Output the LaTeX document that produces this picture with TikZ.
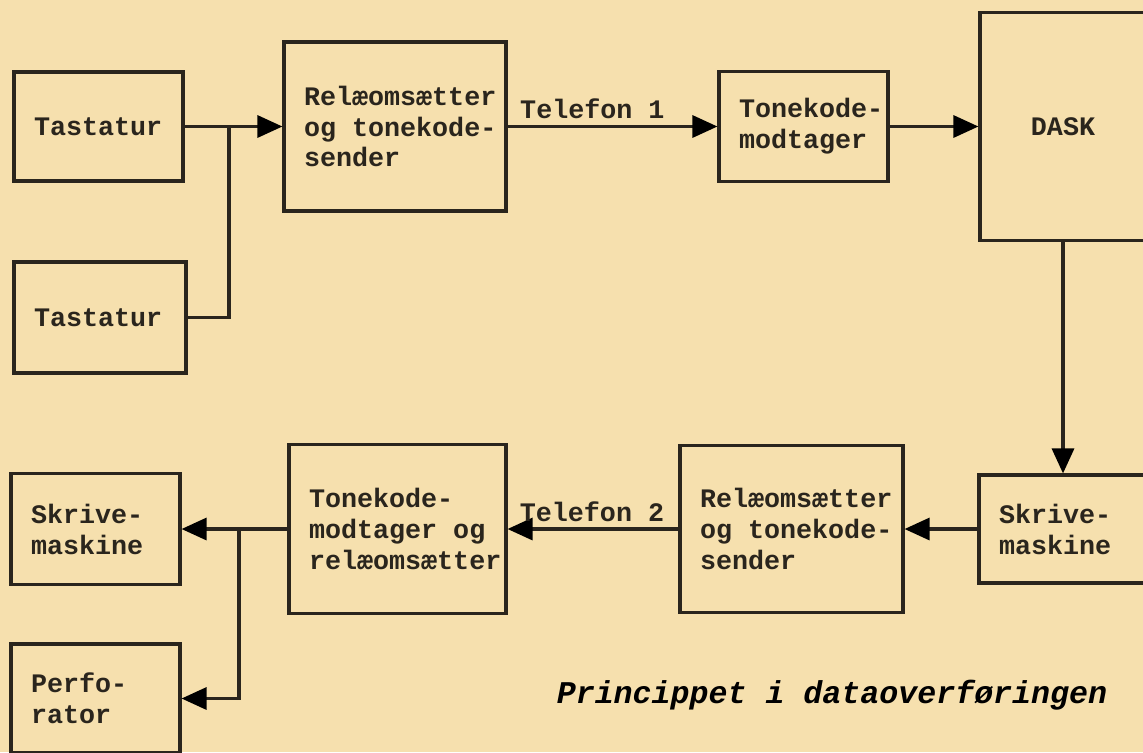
\documentclass[tikz,border=0pt]{standalone}
\usepackage{fontspec}
\setmonofont{Liberation Mono}
\usepackage{xcolor}
\usepackage{tikz}
\usetikzlibrary{arrows.meta}
\hyphenpenalty=10000
\exhyphenpenalty=10000
\definecolor{papir}{HTML}{F6E0AE}
\definecolor{blaek}{HTML}{2A251D}
\newcommand{\boksfont}{\ttfamily\bfseries\fontsize{15.2}{17.6}\selectfont}
\newcommand{\titelfont}{\ttfamily\bfseries\itshape\fontsize{18}{21}\selectfont}
\tikzset{
  blok/.style={draw=blaek, line width=1.8pt, inner xsep=0.4cm, align=flush left, text=blaek, font=\boksfont},
  ledning/.style={draw=blaek, line width=1.8pt},
  pil/.style={ledning, -{Triangle[length=5mm, width=4.4mm, color=black]}},
  etiket/.style={text=blaek, font=\boksfont},
  titel/.style={text=black, font=\titelfont}
}
\begin{document}
\begin{tikzpicture}[x=0.02cm, y=-0.02cm]
  \fill[papir] (0,0) rectangle (1143,752);
  \useasboundingbox (0,0) rectangle (1143,752);

  % top row
  \node[blok, text width=2.58cm, minimum height=2.18cm] (tastA) at (98.5,126.5) {Tastatur};
  \node[blok, text width=2.64cm, minimum height=2.22cm] (tastB) at (100,317.5) {Tastatur};
  \node[blok, text width=3.64cm, minimum height=3.38cm] (relA) at (395,126.5) {Relæomsætter\\\mbox{og tonekode-}\\sender};
  \node[blok, text width=2.58cm, minimum height=2.2cm] (tonA) at (803.5,126.5) {Tonekode-\\modtager};
  \node[blok, align=center, text width=2.52cm, minimum height=4.56cm] (dask) at (1063,126.5) {DASK};

  % bottom row
  \node[blok, text width=2.56cm, minimum height=2.16cm] (skrA) at (1063,529) {Skrive-\\maskine};
  \node[blok, text width=3.66cm, minimum height=3.34cm] (relB) at (791.5,529) {Relæomsætter\\\mbox{og tonekode-}\\sender};
  \node[blok, text width=3.54cm, minimum height=3.38cm] (tonB) at (397.5,529) {Tonekode-\\\mbox{modtager og}\\relæomsætter};
  \node[blok, text width=2.58cm, minimum height=2.22cm] (skrB) at (95.5,529) {Skrive-\\maskine};
  \node[blok, text width=2.58cm, minimum height=2.18cm] (perf) at (95.5,698.5) {Perfo-\\rator};

  \coordinate (knudeA) at (229,126.5);
  \coordinate (knudeB) at (239,529);

  \draw[pil] (tastA.east) -- (relA.west);
  \draw[ledning] (tastB.east) -| (knudeA);
  \draw[pil] (relA.east) -- node[etiket, above, pos=0.404] (tlf1) {Telefon 1} (tonA.west);
  \draw[pil] (tonA.east) -- (dask.west);
  \draw[pil] (dask.south) -- (skrA.north);
  \draw[pil] (skrA.west) -- (relB.east);
  \draw[pil] (relB.west) -- node[etiket, above, pos=0.506] (tlf2) {Telefon 2} (tonB.east);
  \draw[pil] (tonB.west) -- (skrB.east);
  \draw[pil] (knudeB) |- (perf.east);

  \node[titel] (titel) at (832,695) {Princippet i dataoverføringen};
\end{tikzpicture}
\end{document}
